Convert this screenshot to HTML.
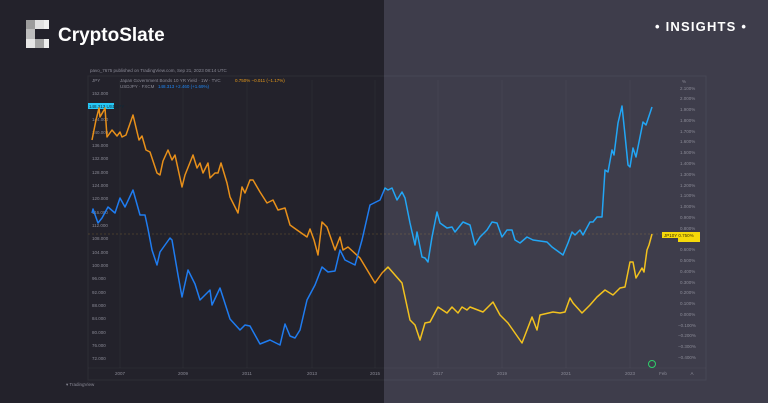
<!DOCTYPE html>
<html><head><meta charset="utf-8"><style>
html,body{margin:0;padding:0;width:768px;height:403px;overflow:hidden;background:#23222b;font-family:"Liberation Sans",sans-serif}
</style></head><body>
<svg width="768" height="403" viewBox="0 0 768 403" xmlns="http://www.w3.org/2000/svg" font-family="Liberation Sans, sans-serif">
<defs>
<clipPath id="cl"><rect x="0" y="0" width="384" height="403"/></clipPath>
<clipPath id="cr"><rect x="384" y="0" width="384" height="403"/></clipPath>
<polyline id="ops" fill="none" stroke-width="1.5" stroke-linejoin="round" points="92,140 96,120 99,108 100,117 104,110 105,108 107,137 112,130 117,136 120,132 122,137 126,135 133,115 139,140 142,136 146,150 150,152 157,173 160,175 163,161 168,150 172,160 175,155 182,187 185,175 193,155 197,168 200,163 203,173 208,163 210,178 215,173 218,173 221,163 227,183 230,197 238,213 242,187 245,193 250,180 253,180 260,192 267,203 273,200 278,210 285,208 290,225 297,230 307,237 310,229 314,240 318,255 322,222 327,227 335,250 340,237 343,250 348,247 360,258 375,283 382,273 388,267 402,283 410,320 415,325 420,340 425,323 430,322 438,307 447,313 452,307 458,313 462,307 467,310 470,307 483,312 493,302 500,315 508,323 522,343 532,317 537,330 540,315 553,312 560,313 565,312 570,298 573,303 582,313 590,305 597,297 605,290 613,295 620,288 625,287 630,262 633,262 636,278 642,268 644,272 647,250 649,245 652,234"/>
<polyline id="bps" fill="none" stroke-width="1.5" stroke-linejoin="round" points="92,213 93,209 98,223 102,218 108,207 115,213 120,198 125,207 133,190 140,215 145,215 148,229 152,250 157,265 160,252 170,238 172,240 178,275 182,297 188,270 195,284 200,300 210,290 212,305 220,288 230,319 240,330 245,325 250,326 255,335 260,344 270,340 280,345 285,324 290,336 295,338 300,330 307,300 315,285 322,267 328,272 335,271 340,250 345,260 355,265 362,240 370,205 374,203 380,200 385,188 388,190 392,188 397,200 402,192 405,198 410,223 415,245 417,232 422,257 425,258 428,262 432,237 437,212 440,223 447,228 452,227 455,232 463,222 470,225 475,245 480,237 487,230 492,222 497,223 502,237 507,230 512,230 515,240 520,243 527,237 533,240 547,242 552,247 563,255 568,243 572,232 575,235 580,230 583,235 590,222 593,222 597,217 602,217 605,170 608,172 612,150 614,155 618,123 622,106 625,135 628,165 630,167 633,148 636,157 643,122 646,125 652,107"/>
</defs>
<rect x="0" y="0" width="384" height="403" fill="#23222b"/>
<rect x="384" y="0" width="384" height="403" fill="#3e3d4b"/>
<rect x="88" y="76" width="618" height="304" fill="none" stroke="#ffffff" stroke-opacity="0.05"/>
<g stroke="#ffffff" stroke-opacity="0.035">
<line x1="120" y1="80" x2="120" y2="368"/><line x1="183" y1="80" x2="183" y2="368"/><line x1="247" y1="80" x2="247" y2="368"/><line x1="312" y1="80" x2="312" y2="368"/><line x1="375" y1="80" x2="375" y2="368"/><line x1="438" y1="80" x2="438" y2="368"/><line x1="502" y1="80" x2="502" y2="368"/><line x1="566" y1="80" x2="566" y2="368"/><line x1="630" y1="80" x2="630" y2="368"/>
<line x1="88" y1="368" x2="706" y2="368"/>
</g>
<line x1="88" y1="234" x2="665" y2="234" stroke="#d9a53a" stroke-opacity="0.2" stroke-dasharray="2,2"/>
<g>
<rect x="26" y="20" width="9" height="9" fill="#9c9c9c"/><rect x="35" y="20" width="9" height="9" fill="#e0e0e0"/><rect x="44" y="20" width="5" height="9" fill="#f0f0f0"/>
<rect x="26" y="29" width="9" height="10" fill="#bdbdbd"/>
<rect x="26" y="39" width="9" height="9" fill="#e6e6e6"/><rect x="35" y="39" width="9" height="9" fill="#a5a5a5"/><rect x="44" y="39" width="5" height="9" fill="#eeeeee"/>
</g>
<text x="58" y="41" fill="#ffffff" font-size="19" font-weight="bold">CryptoSlate</text>
<text x="655" y="31" fill="#ffffff" font-size="13" font-weight="bold" letter-spacing="1.2">• INSIGHTS •</text>
<text x="90" y="72" fill="#8a8a96" font-size="4.5">pavo_7675 published on TradingView.com, Sep 21, 2023 08:14 UTC</text>
<text x="92" y="82" fill="#8a8a96" font-size="4.5">JPY</text>
<text x="120" y="82" fill="#8a8a96" font-size="4.5">Japan Government Bonds 10 YR Yield · 1W · TVC</text><text x="235" y="82" fill="#e89a1a" font-size="4.5">0.750% −0.011 (−1.17%)</text>
<text x="120" y="88" fill="#8a8a96" font-size="4.5">USDJPY · FXCM</text><text x="158" y="88" fill="#1f86f2" font-size="4.5">148.313 +2.460 (+1.69%)</text>
<g fill="#8a8a96" font-size="4.5">
<text x="92" y="95">152.000</text><text x="92" y="121">144.000</text><text x="92" y="134">140.000</text><text x="92" y="147">136.000</text><text x="92" y="160">132.000</text><text x="92" y="174">128.000</text><text x="92" y="187">124.000</text><text x="92" y="200">120.000</text><text x="92" y="214">116.000</text><text x="92" y="227">112.000</text><text x="92" y="240">108.000</text><text x="92" y="254">104.000</text><text x="92" y="267">100.000</text><text x="92" y="280">96.000</text><text x="92" y="294">92.000</text><text x="92" y="307">88.000</text><text x="92" y="320">84.000</text><text x="92" y="334">80.000</text><text x="92" y="347">76.000</text><text x="92" y="360">72.000</text>
</g>
<rect x="88" y="103" width="26" height="6" fill="#27c7f5"/><text x="89" y="108" fill="#0a2a3a" font-size="4.5">148.313  USDJPY</text>
<g fill="#8a8a96" font-size="4.5">
<text x="682" y="83">%</text>
<text x="680" y="90">2.100%</text><text x="680" y="100">2.000%</text><text x="680" y="111">1.900%</text><text x="680" y="122">1.800%</text><text x="680" y="133">1.700%</text><text x="680" y="143">1.600%</text><text x="680" y="154">1.500%</text><text x="680" y="165">1.400%</text><text x="680" y="176">1.300%</text><text x="680" y="187">1.200%</text><text x="680" y="197">1.100%</text><text x="680" y="208">1.000%</text><text x="680" y="219">0.900%</text><text x="680" y="230">0.800%</text><text x="680" y="251">0.600%</text><text x="680" y="262">0.500%</text><text x="680" y="273">0.400%</text><text x="680" y="284">0.300%</text><text x="680" y="294">0.200%</text><text x="680" y="305">0.100%</text><text x="680" y="316">0.000%</text><text x="678" y="327">−0.100%</text><text x="678" y="337">−0.200%</text><text x="678" y="348">−0.300%</text><text x="678" y="359">−0.400%</text>
</g>
<rect x="662" y="232" width="38" height="6" fill="#f5d90a"/><rect x="678" y="238" width="22" height="4" fill="#f5d90a"/>
<text x="664" y="237" fill="#403000" font-size="4.5">JP10Y   0.750%</text>
<g fill="#8a8a96" font-size="4.5" text-anchor="middle">
<text x="120" y="375">2007</text><text x="183" y="375">2009</text><text x="247" y="375">2011</text><text x="312" y="375">2013</text><text x="375" y="375">2015</text><text x="438" y="375">2017</text><text x="502" y="375">2019</text><text x="566" y="375">2021</text><text x="630" y="375">2023</text><text x="663" y="375">Feb</text><text x="692" y="375">A</text>
</g>
<circle cx="652" cy="364" r="3.5" fill="none" stroke="#2fcf6a" stroke-width="1"/>
<text x="66" y="386" fill="#8a8a96" font-size="4.5">▾ TradingView</text>
<use href="#ops" stroke="#e8901a" clip-path="url(#cl)"/>
<use href="#ops" stroke="#f2c21e" clip-path="url(#cr)"/>
<use href="#bps" stroke="#1f7cf0" clip-path="url(#cl)"/>
<use href="#bps" stroke="#22a6f5" clip-path="url(#cr)"/>
</svg>
</body></html>
